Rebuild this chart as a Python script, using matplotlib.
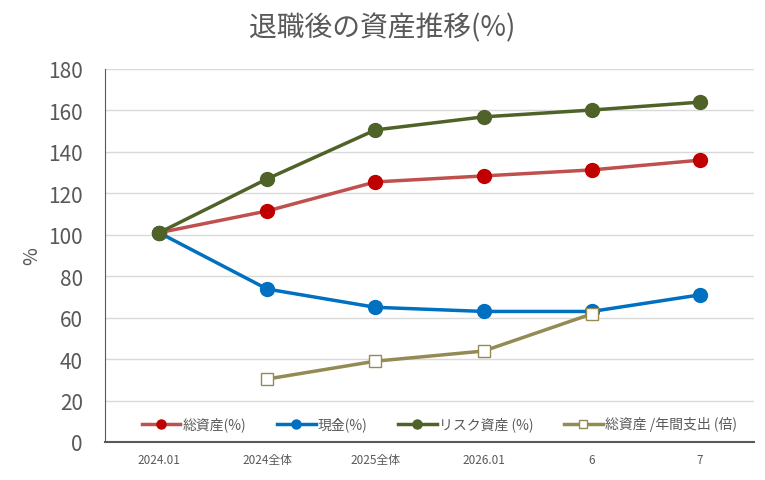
import numpy as np
import matplotlib.pyplot as plt

plt.rcParams['font.family'] = ['Noto Sans CJK JP', 'DejaVu Sans']

categories = ['2024.01', '2024全体', '2025全体', '2026.01', '6', '7']
total_assets = [101, 111.5, 125.5, 128.4, 131.3, 136]
cash = [101, 73.8, 65, 63, 63, 71]
risk_assets = [101, 127, 150.6, 156.9, 160.2, 164]
assets_per_spend = [np.nan, 30.4, 39, 43.9, 61.8, np.nan]

gray = '#595959'
fig = plt.figure(figsize=(7.65, 4.81), dpi=100)
ax = fig.add_axes([105/765, 1-443/481, (754-105)/765, (443-70)/481])

x = np.arange(len(categories))
ax.plot(x, total_assets, color='#c0504d', lw=2.5, marker='o', ms=10,
        mfc='#c00000', mec='#c00000', label='総資産(%)', zorder=3)
ax.plot(x, cash, color='#0070c0', lw=2.5, marker='o', ms=10,
        mfc='#0070c0', mec='#0070c0', label='現金(%)', zorder=3)
ax.plot(x, risk_assets, color='#4f6228', lw=2.5, marker='o', ms=10,
        mfc='#4f6228', mec='#4f6228', label='リスク資産 (%)', zorder=4)
ax.plot(x, assets_per_spend, color='#948a54', lw=2.5, marker='s', ms=9,
        mfc='white', mec='#948a54', mew=1, label='総資産 /年間支出 (倍)', zorder=5)

ax.set_xlim(-0.5, 5.5)
ax.set_ylim(0, 180)
ax.set_yticks(range(0, 181, 20))
ax.set_xticks(x)
ax.set_xticklabels(categories, fontsize=8.5, color=gray)
ax.tick_params(axis='y', labelsize=15, colors=gray, length=0, pad=16)
ax.tick_params(axis='x', length=0, pad=8)
ax.grid(axis='y', color='#d9d9d9', lw=1)
ax.set_axisbelow(True)
for s in ['top', 'right']:
    ax.spines[s].set_visible(False)
ax.spines['left'].set_color(gray)
ax.spines['bottom'].set_color(gray)
ax.spines['bottom'].set_linewidth(1.5)
ax.set_ylabel('%', fontsize=14, color=gray, labelpad=4)

ax.legend(loc='lower center', bbox_to_anchor=(0.515, -0.005), ncol=4, frameon=False,
          fontsize=10, labelcolor=gray, handlelength=2.8, columnspacing=2.2,
          handletextpad=0.15, markerscale=0.65)

fig.text(0.5, 1-28/481, '退職後の資産推移(%)', ha='center', va='center',
         fontsize=20, color=gray)

fig.savefig('out.png')
